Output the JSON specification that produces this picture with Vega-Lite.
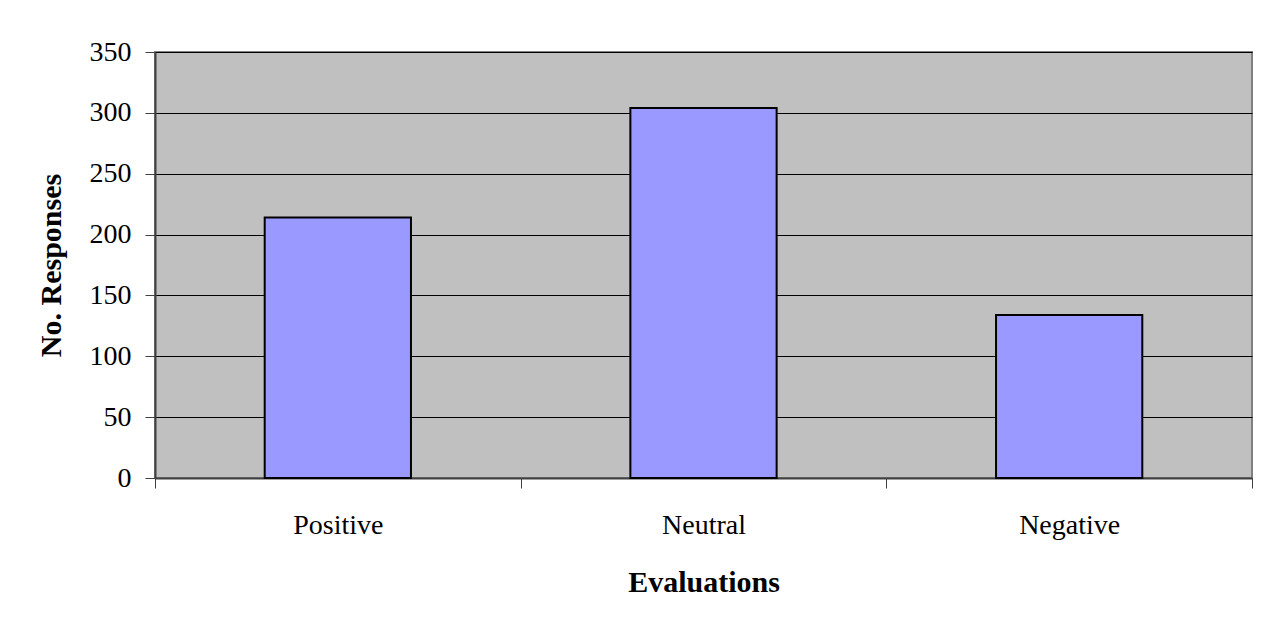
{
  "$schema": "https://vega.github.io/schema/vega-lite/v6.json",
  "autosize": {"type": "none"},
  "width": 1097,
  "height": 426,
  "padding": {"left": 155, "top": 52, "right": 16, "bottom": 148},
  "background": "white",
  "data": {"values": [
    {"Evaluation": "Positive", "Responses": 214},
    {"Evaluation": "Neutral", "Responses": 304},
    {"Evaluation": "Negative", "Responses": 134}
  ]},
  "mark": {"type": "bar", "width": {"band": 0.4}, "fill": "#9999FF", "stroke": "black", "strokeWidth": 2},
  "encoding": {
    "x": {
      "field": "Evaluation", "type": "nominal", "sort": null,
      "scale": {"paddingInner": 0, "paddingOuter": 0},
      "axis": {
        "title": "Evaluations", "labelAngle": 0, "tickBand": "extent",
        "tickSize": 10, "tickColor": "#404040", "tickWidth": 1,
        "domainColor": "#404040", "domainWidth": 2,
        "labelPadding": 23, "titlePadding": 28, "grid": false
      }
    },
    "y": {
      "field": "Responses", "type": "quantitative",
      "scale": {"domain": [0, 350], "nice": false},
      "axis": {
        "title": "No. Responses", "values": [0, 50, 100, 150, 200, 250, 300, 350],
        "tickSize": 10, "tickColor": "#404040", "tickWidth": 1,
        "domainColor": "#404040", "domainWidth": 2,
        "labelPadding": 14, "titlePadding": 23,
        "grid": true, "gridColor": "black", "gridWidth": 1, "gridOpacity": 1
      }
    }
  },
  "config": {
    "view": {"fill": "#C0C0C0", "stroke": "#808080", "strokeWidth": 2},
    "axis": {
      "labelFont": "Liberation Serif", "labelFontSize": 28, "labelColor": "black",
      "titleFont": "Liberation Serif", "titleFontSize": 30, "titleFontWeight": "bold", "titleColor": "black"
    }
  }
}
